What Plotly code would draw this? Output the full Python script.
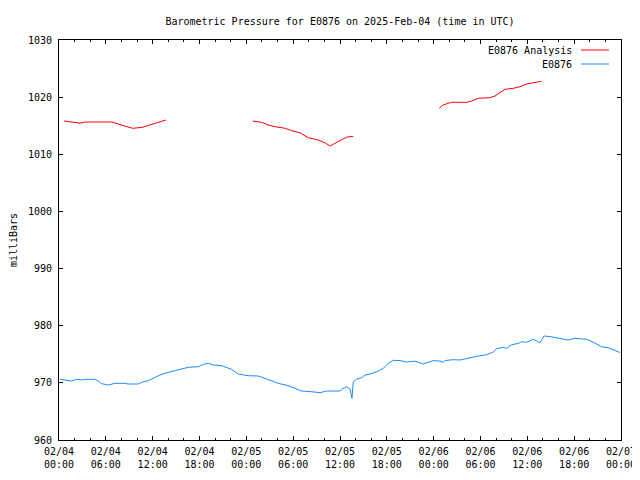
import plotly.graph_objects as go

# ---- data ----
blue_times = [
    "2025-02-04 00:08", "2025-02-04 01:38", "2025-02-04 02:16", "2025-02-04 02:54", "2025-02-04 03:20",
    "2025-02-04 04:37", "2025-02-04 05:02", "2025-02-04 05:28", "2025-02-04 06:19", "2025-02-04 07:10",
    "2025-02-04 08:27", "2025-02-04 08:50", "2025-02-04 10:07", "2025-02-04 10:36", "2025-02-04 11:26",
    "2025-02-04 12:18", "2025-02-04 12:56", "2025-02-04 14:00", "2025-02-04 15:17", "2025-02-04 16:34",
    "2025-02-04 17:51", "2025-02-04 18:29", "2025-02-04 19:08", "2025-02-04 19:46", "2025-02-04 20:50",
    "2025-02-04 22:07", "2025-02-04 22:58", "2025-02-05 00:15", "2025-02-05 01:32", "2025-02-05 02:49",
    "2025-02-05 04:05", "2025-02-05 05:22", "2025-02-05 06:14", "2025-02-05 07:05", "2025-02-05 08:22",
    "2025-02-05 09:26", "2025-02-05 10:17", "2025-02-05 12:00", "2025-02-05 12:13", "2025-02-05 12:51",
    "2025-02-05 13:17", "2025-02-05 13:32", "2025-02-05 13:42", "2025-02-05 14:08", "2025-02-05 14:47",
    "2025-02-05 15:12", "2025-02-05 15:50", "2025-02-05 16:42", "2025-02-05 17:33", "2025-02-05 18:11",
    "2025-02-05 18:50", "2025-02-05 19:41", "2025-02-05 20:32", "2025-02-05 21:36", "2025-02-05 22:40",
    "2025-02-05 23:57", "2025-02-06 00:49", "2025-02-06 01:14", "2025-02-06 01:27", "2025-02-06 02:31",
    "2025-02-06 03:22", "2025-02-06 04:14", "2025-02-06 05:31", "2025-02-06 06:47", "2025-02-06 07:38",
    "2025-02-06 08:04", "2025-02-06 08:55", "2025-02-06 09:21", "2025-02-06 09:59", "2025-02-06 10:50",
    "2025-02-06 11:17", "2025-02-06 11:55", "2025-02-06 12:46", "2025-02-06 13:37", "2025-02-06 14:08",
    "2025-02-06 14:54", "2025-02-06 16:11", "2025-02-06 17:14", "2025-02-06 18:06", "2025-02-06 19:36",
    "2025-02-06 20:27", "2025-02-06 21:31", "2025-02-06 22:22", "2025-02-06 23:27", "2025-02-06 23:52",
]
blue_values = [
    970.62, 970.32, 970.62, 970.50, 970.62,
    970.62, 970.32, 969.86, 969.62, 969.92,
    969.92, 969.80, 969.80, 970.10, 970.39,
    970.90, 971.37, 971.84, 972.25, 972.72,
    972.83, 973.24, 973.42, 973.12, 973.00,
    972.36, 971.55, 971.25, 971.20, 970.62,
    969.92, 969.50, 969.04, 968.57, 968.45,
    968.28, 968.57, 968.57, 968.87, 969.33,
    968.90, 967.30, 970.20, 970.67, 970.90,
    971.37, 971.55, 971.95, 972.54, 973.42,
    973.94, 973.90, 973.65, 973.80, 973.30,
    973.90, 973.80, 973.60, 973.90, 974.06,
    974.00, 974.29, 974.64, 974.93, 975.40,
    975.98, 976.22, 976.05, 976.67, 976.90,
    977.20, 977.10, 977.62, 977.03, 978.20,
    978.10, 977.79, 977.50, 977.79, 977.62,
    977.10, 976.33, 976.15, 975.45, 975.30,
]

red_times = [
    "2025-02-04 00:38", "2025-02-04 01:38", "2025-02-04 02:41", "2025-02-04 03:20", "2025-02-04 06:45",
    "2025-02-04 07:59", "2025-02-04 09:26", "2025-02-04 10:36", "2025-02-04 12:00", "2025-02-04 12:59",
    "2025-02-04 13:42", "2025-02-04 19:00",
    "2025-02-05 00:49", "2025-02-05 01:58", "2025-02-05 02:48", "2025-02-05 03:41", "2025-02-05 04:58",
    "2025-02-05 05:48", "2025-02-05 06:52", "2025-02-05 07:56", "2025-02-05 09:12", "2025-02-05 10:04",
    "2025-02-05 10:43", "2025-02-05 11:47", "2025-02-05 12:51", "2025-02-05 13:42", "2025-02-05 19:00",
    "2025-02-06 00:43", "2025-02-06 01:12", "2025-02-06 01:52", "2025-02-06 02:18", "2025-02-06 04:12",
    "2025-02-06 04:52", "2025-02-06 05:43", "2025-02-06 07:12", "2025-02-06 07:51", "2025-02-06 08:30",
    "2025-02-06 09:08", "2025-02-06 10:12", "2025-02-06 11:04", "2025-02-06 11:54", "2025-02-06 12:46",
    "2025-02-06 13:50",
]
red_values = [
    1015.82, 1015.65, 1015.45, 1015.65, 1015.65,
    1015.12, 1014.55, 1014.70, 1015.30, 1015.75,
    1016.00, None,
    1015.82, 1015.59, 1015.12, 1014.83, 1014.55,
    1014.13, 1013.78, 1012.90, 1012.50, 1012.03,
    1011.45, 1012.20, 1013.00, 1013.14, None,
    1018.04, 1018.62, 1018.92, 1019.10, 1019.10,
    1019.33, 1019.80, 1019.91, 1020.20, 1020.78,
    1021.37, 1021.54, 1021.83, 1022.30, 1022.53,
    1022.77,
]

tick_vals = [
    "2025-02-04 00:00", "2025-02-04 06:00", "2025-02-04 12:00", "2025-02-04 18:00",
    "2025-02-05 00:00", "2025-02-05 06:00", "2025-02-05 12:00", "2025-02-05 18:00",
    "2025-02-06 00:00", "2025-02-06 06:00", "2025-02-06 12:00", "2025-02-06 18:00",
    "2025-02-07 00:00",
]
tick_text = [
    "02/04<br>00:00", "02/04<br>06:00", "02/04<br>12:00", "02/04<br>18:00",
    "02/05<br>00:00", "02/05<br>06:00", "02/05<br>12:00", "02/05<br>18:00",
    "02/06<br>00:00", "02/06<br>06:00", "02/06<br>12:00", "02/06<br>18:00",
    "02/07<br>00:00",
]

RED = "#ff0000"
BLUE = "#1a8cff"
FONT = "DejaVu Sans Mono"

# the page body adds an 8px offset, so the figure is sized to fit the window
W, H = 632, 472
L, R, T, B = 51, 19, 32, 40

fig = go.Figure()
fig.add_trace(go.Scatter(x=red_times, y=red_values, mode="lines", name="E0876 Analysis",
                         line=dict(color=RED, width=1), connectgaps=False))
fig.add_trace(go.Scatter(x=blue_times, y=blue_values, mode="lines", name="E0876",
                         line=dict(color=BLUE, width=1)))

fig.update_layout(
    width=W, height=H,
    margin=dict(l=L, r=R, t=T, b=B, pad=0),
    paper_bgcolor="white", plot_bgcolor="white",
    showlegend=False,
    font=dict(family=FONT, size=10, color="black"),
    title=dict(text="Barometric Pressure for E0876 on 2025-Feb-04 (time in UTC)",
               x=(L + (W - L - R) / 2) / W, xanchor="center", y=1 - 13 / H, yanchor="middle",
               font=dict(family=FONT, size=10, color="black")),
)

fig.update_xaxes(
    type="date", automargin=False,
    range=["2025-02-04 00:00", "2025-02-07 00:00"],
    tickvals=tick_vals, ticktext=tick_text,
    ticks="inside", ticklen=4, tickcolor="black", tickwidth=1,
    ticklabelstandoff=2,
    showline=True, linecolor="black", linewidth=1, mirror="ticks",
    showgrid=False, zeroline=False,
    minor=dict(ticks="inside", dtick=7200000, ticklen=2, tickcolor="black", showgrid=False),
    tickfont=dict(family=FONT, size=10, color="black"),
)
fig.update_yaxes(
    range=[960, 1030], dtick=10, tick0=960, automargin=False,
    ticks="inside", ticklen=4, tickcolor="black", tickwidth=1,
    ticklabelstandoff=4,
    showline=True, linecolor="black", linewidth=1, mirror="ticks",
    showgrid=False, zeroline=False,
    title=dict(text="milliBars", font=dict(family=FONT, size=10, color="black"), standoff=12),
    tickfont=dict(family=FONT, size=10, color="black"),
)

# gnuplot-style legend: text right-aligned, sample line to its right
legend_items = [("E0876 Analysis", RED, 0.975), ("E0876", BLUE, 0.94)]
for label, color, yy in legend_items:
    fig.add_annotation(text=label, xref="paper", yref="paper", x=0.9164, y=yy,
                       xanchor="right", yanchor="middle", showarrow=False,
                       font=dict(family=FONT, size=10, color="black"))
    fig.add_shape(type="line", xref="paper", yref="paper", x0=0.9288, x1=0.9786,
                  y0=yy, y1=yy, line=dict(color=color, width=1))

fig.write_html("out.html")
